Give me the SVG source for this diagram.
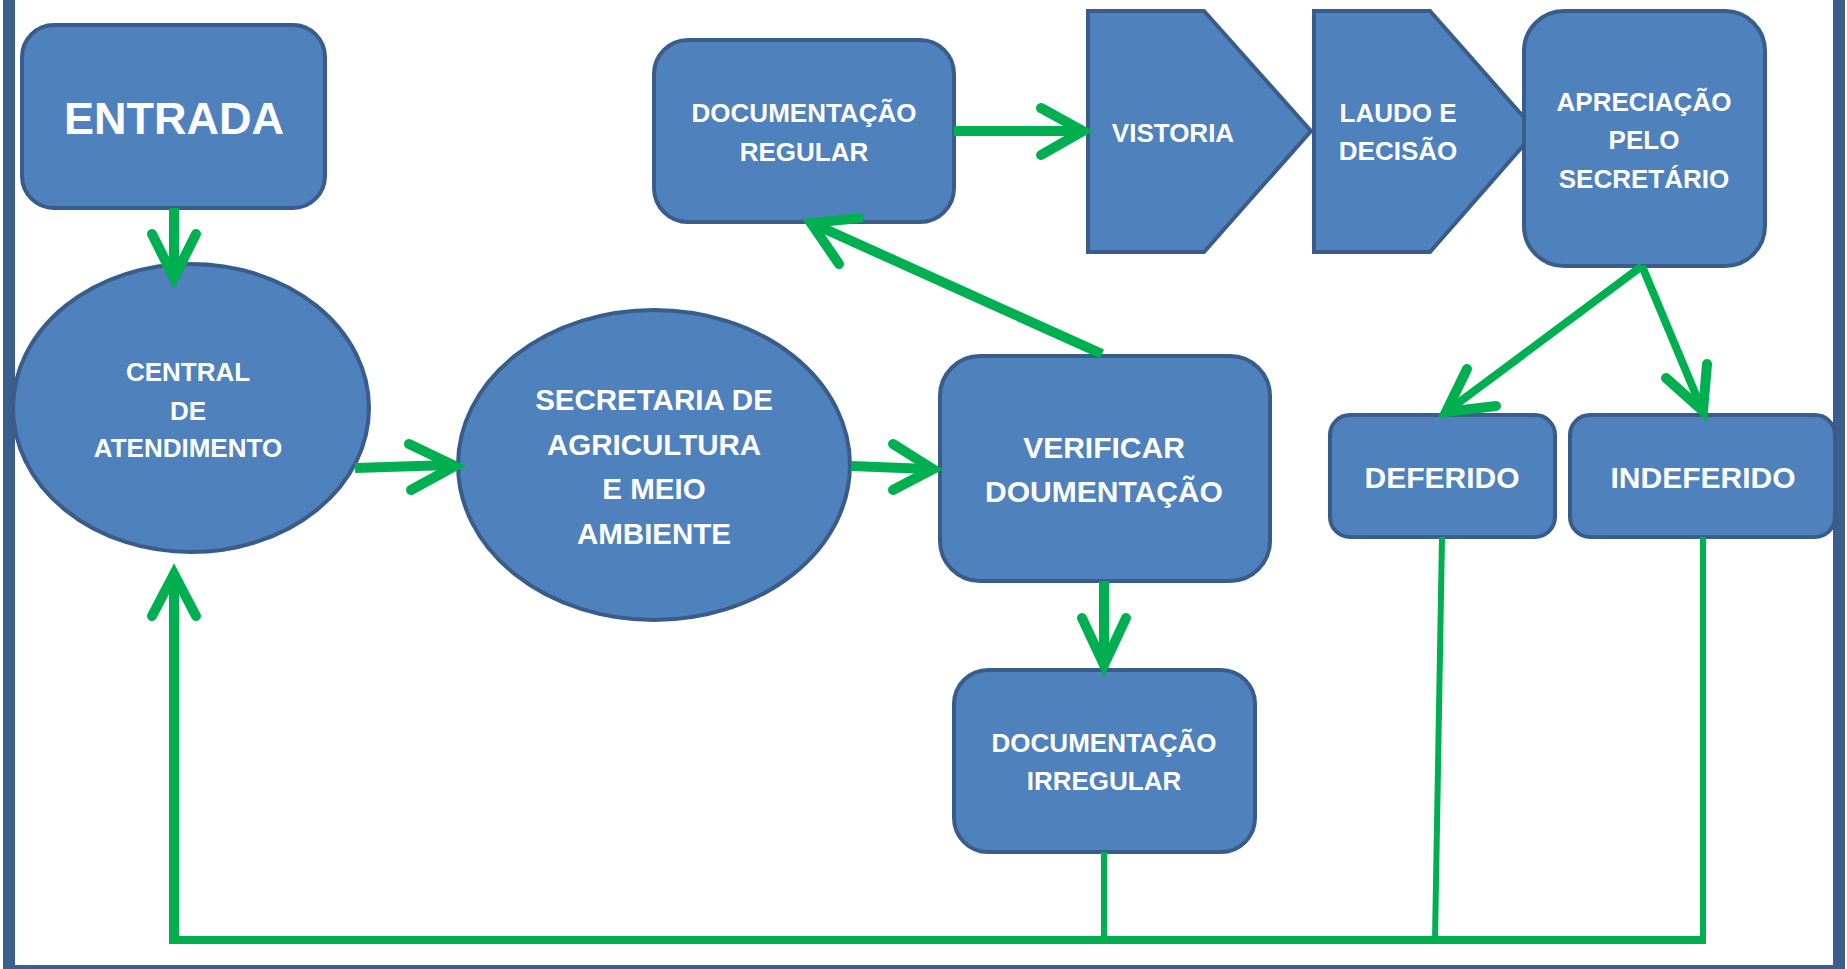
<svg xmlns="http://www.w3.org/2000/svg" width="1847" height="969" viewBox="0 0 1847 969">
<style>
.n{fill:#4F81BD;stroke:#385D8A;stroke-width:4}
.t{fill:#FFFFFF;font-family:"Liberation Sans",Arial,sans-serif;font-weight:bold;text-anchor:middle}
.c{fill:none;stroke:#00B050;stroke-linecap:butt}
.h{fill:none;stroke:#00B050;stroke-width:10;stroke-linecap:round;stroke-linejoin:miter}
</style>
<rect width="1847" height="969" fill="#FFFFFF"/>
<rect x="9" y="-20" width="1830" height="991" fill="none" stroke="#3B5E8C" stroke-width="12"/>
<g id="entrada">
<rect class="n" x="22" y="25" width="303" height="183" rx="32"/>
<text class="t" x="174" y="134" font-size="45">ENTRADA</text>
</g>
<g id="central">
<ellipse class="n" cx="191" cy="408" rx="178" ry="144"/>
<text class="t" font-size="26"><tspan x="188" y="381">CENTRAL</tspan><tspan x="188" y="420">DE</tspan><tspan x="188" y="457">ATENDIMENTO</tspan></text>
</g>
<g id="secretaria">
<ellipse class="n" cx="654" cy="465" rx="196" ry="155"/>
<text class="t" font-size="29.5"><tspan x="654" y="410">SECRETARIA DE</tspan><tspan x="654" y="455">AGRICULTURA</tspan><tspan x="654" y="499">E MEIO</tspan><tspan x="654" y="544">AMBIENTE</tspan></text>
</g>
<g id="verificar">
<rect class="n" x="940" y="356" width="330" height="225" rx="40"/>
<text class="t" font-size="30"><tspan x="1104" y="458">VERIFICAR</tspan><tspan x="1104" y="502">DOUMENTAÇÃO</tspan></text>
</g>
<g id="doc-regular">
<rect class="n" x="654" y="40" width="300" height="182" rx="34"/>
<text class="t" font-size="26"><tspan x="804" y="122">DOCUMENTAÇÃO</tspan><tspan x="804" y="161">REGULAR</tspan></text>
</g>
<g id="vistoria">
<polygon class="n" points="1088,11 1204,11 1311,131 1204,252 1088,252"/>
<text class="t" x="1173" y="142" font-size="26">VISTORIA</text>
</g>
<g id="laudo">
<polygon class="n" points="1314,11 1430,11 1536,131 1430,252 1314,252"/>
<text class="t" font-size="26"><tspan x="1398" y="122">LAUDO E</tspan><tspan x="1398" y="160">DECISÃO</tspan></text>
</g>
<g id="apreciacao">
<rect class="n" x="1524" y="11" width="241" height="255" rx="40"/>
<text class="t" font-size="26"><tspan x="1644" y="111">APRECIAÇÃO</tspan><tspan x="1644" y="149">PELO</tspan><tspan x="1644" y="188">SECRETÁRIO</tspan></text>
</g>
<g id="deferido">
<rect class="n" x="1330" y="415" width="225" height="122" rx="20"/>
<text class="t" x="1442" y="488" font-size="30">DEFERIDO</text>
</g>
<g id="indeferido">
<rect class="n" x="1570" y="415" width="265" height="122" rx="20"/>
<text class="t" x="1703" y="488" font-size="30">INDEFERIDO</text>
</g>
<g id="doc-irregular">
<rect class="n" x="954" y="670" width="301" height="182" rx="34"/>
<text class="t" font-size="26"><tspan x="1104" y="752">DOCUMENTAÇÃO</tspan><tspan x="1104" y="790">IRREGULAR</tspan></text>
</g>
<g id="connectors">
<line class="c" x1="174" y1="208" x2="174" y2="274" stroke-width="10"/>
<polyline class="h" points="152,234 174,278 196,234"/>
<line class="c" x1="355" y1="468" x2="450" y2="465" stroke-width="10"/>
<polyline class="h" points="409,444 455,466 411,490"/>
<line class="c" x1="851" y1="466" x2="928" y2="469" stroke-width="10"/>
<polyline class="h" points="893,444 933,469 893,490"/>
<line class="c" x1="1102" y1="354" x2="816" y2="225" stroke-width="10"/>
<polyline class="h" points="859,218 811,223 839,264"/>
<line class="c" x1="954" y1="131" x2="1080" y2="131" stroke-width="10"/>
<polyline class="h" points="1041,108 1083,131 1041,155"/>
<line class="c" x1="1642" y1="266" x2="1450" y2="409" stroke-width="8"/>
<polyline class="h" points="1467,369 1446,412 1496,406"/>
<line class="c" x1="1642" y1="266" x2="1701" y2="407" stroke-width="8"/>
<polyline class="h" points="1666,378 1703,411 1707,364"/>
<line class="c" x1="1104" y1="581" x2="1104" y2="662" stroke-width="10"/>
<polyline class="h" points="1082,618 1104,665 1126,618"/>
<line class="c" x1="1104" y1="852" x2="1104" y2="940" stroke-width="6"/>
<line class="c" x1="1442" y1="537" x2="1435" y2="940" stroke-width="6"/>
<line class="c" x1="1703" y1="537" x2="1703" y2="944" stroke-width="6"/>
<line class="c" x1="170" y1="940" x2="1706" y2="940" stroke-width="8"/>
<line class="c" x1="174" y1="944" x2="174" y2="580" stroke-width="10"/>
<polyline class="h" points="152,616 174,574 196,616"/>
</g>
</svg>
